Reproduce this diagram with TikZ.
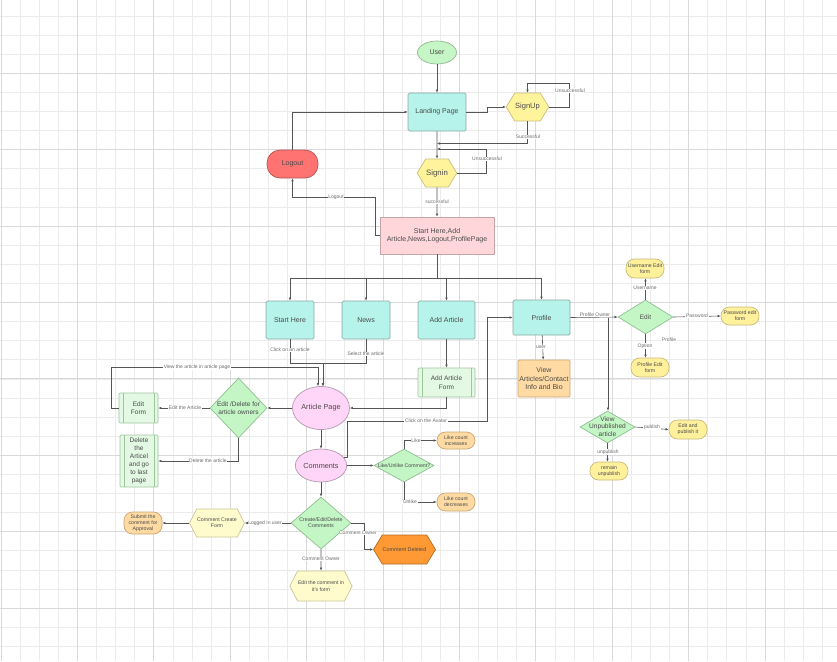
\documentclass[tikz,border=0pt]{standalone}
\usepackage{fontspec}
\setmainfont{Liberation Sans}
\usetikzlibrary{shapes.geometric,shapes.misc,shapes.symbols,arrows.meta}
\newcommand\myfs[2]{\fontsize{#1}{#2}\selectfont}
\newcommand\zt[1]{\smash{\raisebox{-0.3em}{\makebox[0pt]{\begin{tabular}{@{}c@{}}#1\end{tabular}}}}}
\definecolor{gridminor}{HTML}{EBEBEB}
\definecolor{gridmajor}{HTML}{D9D9D9}
\definecolor{txt}{HTML}{4A4A4A}
\definecolor{lbl}{HTML}{6A6A6A}
\definecolor{linec}{HTML}{555555}
\definecolor{userf}{HTML}{C6F5C6}\definecolor{userb}{HTML}{93B893}
\definecolor{tealf}{HTML}{B6F3EA}\definecolor{tealb}{HTML}{8AA9A6}
\definecolor{hexf}{HTML}{FFF49C}\definecolor{hexb}{HTML}{C9BF7A}
\definecolor{logoutf}{HTML}{FF7373}\definecolor{logoutb}{HTML}{B35555}
\definecolor{startf}{HTML}{FFD7DA}\definecolor{startb}{HTML}{C4A3A6}
\definecolor{pinkf}{HTML}{FFD6F7}\definecolor{pinkb}{HTML}{B598B0}
\definecolor{diaf}{HTML}{C3F5C5}\definecolor{diab}{HTML}{8FBF92}
\definecolor{subf}{HTML}{E3F9E3}\definecolor{subb}{HTML}{9FC59F}
\definecolor{orf}{HTML}{FFDBA3}\definecolor{orb}{HTML}{C9A573}
\definecolor{lyf}{HTML}{FFFBCC}\definecolor{lyb}{HTML}{C9C69A}
\definecolor{cdelf}{HTML}{FF9933}\definecolor{cdelb}{HTML}{B36B24}
\definecolor{yf}{HTML}{FFF09C}\definecolor{yb}{HTML}{C9BA78}
\tikzset{
  every node/.style={text=txt, align=center, inner sep=0.5pt, font=\myfs{7}{8.4}},
  base/.style={draw, line width=0.7pt},
  tealbox/.style={base, rectangle, rounded corners=1.5pt, fill=tealf, draw=tealb},
  hexa/.style={base, signal, signal to=east and west, signal pointer angle=118},
  stad/.style={base, rectangle, rounded corners=8.5pt},
  smallst/.style={stad, fill=yf, draw=yb, minimum width=38, minimum height=19, font=\myfs{5.2}{6.2}},
  orst/.style={stad, fill=orf, draw=orb, minimum width=38, minimum height=18, font=\myfs{5.2}{6.2}},
  dia/.style={base, diamond, fill=diaf, draw=diab, inner sep=0pt},
  subproc/.style={base, rectangle, rounded corners=1pt, fill=subf, draw=subb,
    path picture={\draw[subb, line width=0.6pt]
      ([xshift=4pt]path picture bounding box.north west) -- ([xshift=4pt]path picture bounding box.south west)
      ([xshift=-4pt]path picture bounding box.north east) -- ([xshift=-4pt]path picture bounding box.south east);}},
  conn/.style={draw=linec, line width=0.6pt, -{Latex[length=3pt,width=2.6pt]}},
  plain/.style={draw=linec, line width=0.6pt},
  elabel/.style={font=\myfs{5}{6}, fill=white, inner sep=0.6pt, text=lbl},
}
\begin{document}
\begin{tikzpicture}[x=1pt,y=-1pt]
\useasboundingbox (0,0) rectangle (837,661);
\fill[white] (0,0) rectangle (837,661);
% grid
\foreach \k in {0,...,44} \draw[gridminor, line width=0.8pt] ({1+19.1*\k},0) -- ({1+19.1*\k},661);
\foreach \k in {1,...,35} \draw[gridminor, line width=0.8pt] (0,{-3.1+19.1*\k}) -- (837,{-3.1+19.1*\k});
\foreach \k in {0,...,11} \draw[gridmajor, line width=0.9pt] ({1+76.4*\k},0) -- ({1+76.4*\k},661);
\foreach \k in {1,...,8} \draw[gridmajor, line width=0.9pt] (0,{-3.1+76.4*\k}) -- (837,{-3.1+76.4*\k});

% nodes
\node[base, ellipse, fill=userf, draw=userb, minimum width=39, minimum height=23] (user) at (437,52.5) {User};
\node[tealbox, minimum width=58, minimum height=38] (landing) at (437,112) {Landing Page};
\node[hexa, fill=hexf, draw=hexb, minimum width=37, minimum height=28, font=\myfs{7.5}{9}] (signup) at (527.5,107) {SignUp};
\node[base, rectangle, rounded corners=13pt, fill=logoutf, draw=logoutb, minimum width=51, minimum height=28] (logout) at (292.5,164) {Logout};
\node[hexa, fill=hexf, draw=hexb, minimum width=38, minimum height=28, font=\myfs{7.8}{9}] (signin) at (437,173) {Signin};
\node[base, rectangle, fill=startf, draw=startb, minimum width=114, minimum height=37] (start) at (437,235.5) {Start Here,Add\\Article,News,Logout,ProfilePage};
\node[tealbox, minimum width=48, minimum height=38] (starthere) at (290,320) {Start Here};
\node[tealbox, minimum width=48, minimum height=38] (news) at (366,320) {News};
\node[tealbox, minimum width=57, minimum height=38] (addart) at (446.5,320) {Add Article};
\node[tealbox, minimum width=57, minimum height=35] (profile) at (541.5,317.5) {Profile};
\node[subproc, minimum width=57, minimum height=29, font=\myfs{6.5}{8.5}] (addform) at (446.5,382.5) {Add Article\\Form};
\node[base, rectangle, rounded corners=1pt, fill=orf, draw=orb, minimum width=52, minimum height=37] (viewart) at (544,378.5) {View\\Articles/Contact\\Info and Bio};
\node[base, ellipse, fill=pinkf, draw=pinkb, minimum width=52, minimum height=43, font=\myfs{7.3}{8.5}] (artpage) at (321,408) {Article Page};
\node[dia, minimum width=57, minimum height=60, font=\myfs{6.5}{8}] (editdel) at (238.5,408) {\zt{Edit /Delete for\\article owners}};
\node[subproc, minimum width=39, minimum height=30, font=\myfs{6.5}{8}] (editform) at (138.5,408) {Edit\\Form};
\node[subproc, minimum width=38, minimum height=52, font=\myfs{6.5}{8}] (delete) at (139,461) {Delete\\the\\Articel\\and go\\to last\\page};
\node[base, ellipse, fill=pinkf, draw=pinkb, minimum width=38, minimum height=33, font=\myfs{7.3}{8.5}] (comments) at (321,465.5) {Comments};
\node[dia, minimum width=60, minimum height=33, font=\myfs{5.2}{6.2}] (likeq) at (404,465.5) {\zt{Like/Unlike Comment?}};
\node[orst, minimum height=17] (likeinc) at (456,440.5) {Like count\\increases};
\node[orst] (likedec) at (456,502) {Like count\\decreases};
\node[dia, minimum width=60, minimum height=52, font=\myfs{5.3}{6.4}] (ced) at (321,523) {\zt{Create/Edit/Delete\\Comments}};
\node[hexa, fill=lyf, draw=lyb, minimum width=50, minimum height=28, signal pointer angle=126, font=\myfs{5.2}{6.4}] (ccform) at (217,523) {Comment Create\\Form};
\node[orst, minimum height=22] (submit) at (143,523) {Submit the\\comment for\\Approval};
\node[hexa, fill=cdelf, draw=cdelb, minimum width=55, minimum height=29, font=\myfs{5.4}{6.4}] (cdel) at (404.5,549.5) {Comment Deleted};
\node[hexa, fill=lyf, draw=lyb, minimum width=56, minimum height=30, signal pointer angle=126, font=\myfs{5.2}{6.4}] (editc) at (321,586) {Edit the comment in\\it's form};
\node[dia, minimum width=55, minimum height=34, font=\myfs{6.5}{8}] (editd) at (645.5,317) {\zt{Edit}};
\node[smallst] (uname) at (645,268.5) {Username Edit\\form};
\node[smallst, minimum height=18] (pwd) at (740,316) {Password edit\\form};
\node[smallst] (pedit) at (650,367.5) {Profile Edit\\form};
\node[dia, minimum width=55, minimum height=32, font=\myfs{6.6}{7.6}] (unpub) at (607.5,427) {\zt{View\\Unpublished\\article}};
\node[smallst] (pubit) at (688,429.5) {Edit and\\publish it};
\node[smallst, minimum height=18] (remain) at (609,471) {remain\\unpublish};

% junction coordinates
\coordinate (j1) at (437,143.5);
\coordinate (j2) at (437,149);
\coordinate (bus) at (437,278);
\coordinate (av1) at (347,421);
\coordinate (po) at (608,317.5);

% connectors
\draw[conn] (user) -- (landing);
\draw[conn] (landing.east) -- ++(21,0) |- (signup.west);
\draw[conn] (signup.east) -| (569,83) -| (signup.north);
\draw[conn] (signup.south) |- (j1);
\draw[conn] (signin.east) -- (486,173) |- (j2);
\draw[conn] (landing) -- (signin);
\draw[conn] (signin) -- (start);
\draw[conn] (start.west) -| (375,197) -| (logout.south);
\draw[conn] (logout.north) |- (landing.west);
\draw[plain] (start.south) -- (bus);
\draw[conn] (bus) -| (starthere.north);
\draw[conn] (bus) -| (news.north);
\draw[conn] (bus) -| (addart.north);
\draw[conn] (bus) -| (profile.north);
\draw[conn] (starthere.south) -- (290,363) -| ([xshift=2pt]artpage.north);
\draw[conn] (news.south) -- (366,363) -| ([xshift=2pt]artpage.north);
\draw[conn] (addart) -- (addform);
\draw[conn] (addform.south) |- (artpage.east);
\draw[conn] (profile) -- (viewart);
\draw[conn] (comments.20) -| (av1) -- (487,421) |- (profile.west);
\draw[conn] (artpage.west) -- (editdel.east);
\draw[conn] (editdel.west) -- (editform.east);
\draw[conn] (editform.west) -- (111,408) |- (318,367) -- ([xshift=-3pt]artpage.north);
\draw[conn] (editdel.south) |- (delete.east);
\draw[conn] (artpage) -- (comments);
\draw[conn] (comments) -- (likeq);
\draw[conn] (likeq.north) |- (likeinc.west);
\draw[conn] (likeq.south) |- (likedec.west);
\draw[conn] (comments) -- (ced);
\draw[conn] (ced.west) -- (ccform.east);
\draw[conn] (ccform.west) -- (submit.east);
\draw[conn] (ced.east) -- (364,523) |- (cdel.west);
\draw[conn] (ced) -- (editc);
\draw[conn] (profile.east) -- (editd.west);
\draw[conn] (po) -- (po |- unpub.north);
\draw[conn] (editd.north) -- (editd.north |- uname.south);
\draw[conn] (editd.east) -- (pwd.west);
\draw[conn] (editd.south) -- (editd.south |- pedit.north);
\draw[conn] (unpub.east) -- (pubit.west);
\draw[conn] (unpub.south) -- (unpub.south |- remain.north);

% edge labels
\node[elabel] (l1) at (570,91) {Unsuccessful};
\node[elabel] (l2) at (528,137) {Successful};
\node[elabel] (l3) at (487,159) {Unsuccessful};
\node[elabel] (l4) at (437,202) {successful};
\node[elabel] (l5) at (336,197) {Logout};
\node[elabel] (l6) at (290,350) {Click on an article};
\node[elabel] (l7) at (366,354) {Select the article};
\node[elabel] (l8) at (541,347) {user};
\node[elabel] (l9) at (426,421) {Click on the Avatar};
\node[elabel] (l10) at (185,408) {Edit the Article};
\node[elabel] (l11) at (197,367) {View the article in article page};
\node[elabel] (l12) at (208,460.5) {Delete the article};
\node[elabel] (l13) at (416,440.5) {Like};
\node[elabel] (l14) at (410,502) {Unlike};
\node[elabel] (l15) at (265,523) {Logged In user};
\node[elabel] (l16) at (358,533) {Comment Owner};
\node[elabel] (l17) at (321,559) {Comment Owner};
\node[elabel] (l18) at (595,315) {Profile Owner};
\node[elabel] (l19) at (645,288) {Username};
\node[elabel] (l20) at (697,316) {Password};
\node[elabel] (l21) at (645,346) {Option};
\node[elabel] (l22) at (669,340) {Profile};
\node[elabel] (l23) at (652,427.5) {publish};
\node[elabel] (l24) at (608,452) {unpublish};
\end{tikzpicture}
\end{document}
